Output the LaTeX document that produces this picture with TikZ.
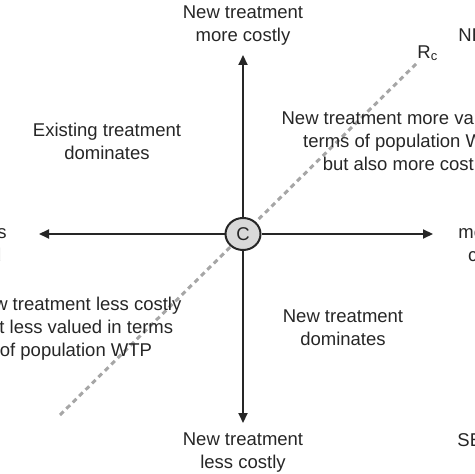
\documentclass[tikz,border=0pt]{standalone}
\usepackage{fontspec}
\setmainfont{Liberation Sans}
\usetikzlibrary{arrows.meta, shapes.geometric}
\begin{document}
\begin{tikzpicture}[
		x=0.5pt, y=-0.5pt,
		lbl/.style = {align=center, text=black!85, inner sep=0pt, font=\fontsize{9.25}{11.5}\selectfont},
		ax/.style = {-{Triangle[length=5pt, width=4.5pt]}, draw=black!85, line width=1pt},
		rc/.style = {draw=black!35, line width=1.5pt, dash pattern=on 2.5pt off 2pt},
		orig/.style = {ellipse, draw=black!85, fill=black!15, line width=1pt, inner sep=0pt, minimum width=17.5pt, minimum height=16pt, font=\fontsize{9.25}{11.5}\selectfont, text=black!85}
		]
		
		\clip (0,0) rectangle (474,474);
		
		%Threshold line
		\coordinate (r0) at (60,415);
		\coordinate (r1) at (418,62);
		\draw[rc] (r0) -- (r1);
		
		%Nodes
		\node[orig]	(c)	at	(243,234)	{C};
		\coordinate (n) at (243,55);
		\coordinate (s) at (243,423);
		\coordinate (w) at (39,234);
		\coordinate (e) at (433,234);
		
		\node[lbl]	(top)	at	(243,26)	{New treatment\\more costly};
		\node[lbl]	(bot)	at	(243,453)	{New treatment\\less costly};
		\node[lbl, anchor=east]	(lft)	at	(7,245)	{valued less\\compared};
		\node[lbl, anchor=west]	(rgt)	at	(458,245)	{more valued\\compared};
		\node[lbl]	(nw)	at	(107,141)	{Existing treatment\\dominates};
		\node[lbl]	(ne)	at	(405,143)	{New treatment more valued in\\terms of population WTP\\but also more costly};
		\node[lbl]	(sw)	at	(76,329)	{New treatment less costly\\but less valued in terms\\of population WTP};
		\node[lbl]	(se)	at	(343,328)	{New treatment\\dominates};
		\node[lbl, anchor=west]	(rc)	at	(417,53)	{R\textsubscript{c}};
		\node[lbl, anchor=west]	(nel)	at	(458,35)	{NE};
		\node[lbl, anchor=west]	(sel)	at	(457,440)	{SE};
		
		%Axes
		\draw[ax]	(c)	--	(n);
		\draw[ax]	(c)	--	(s);
		\draw[ax]	(c)	--	(w);
		\draw[ax]	(c)	--	(e);
	\end{tikzpicture}
\end{document}
